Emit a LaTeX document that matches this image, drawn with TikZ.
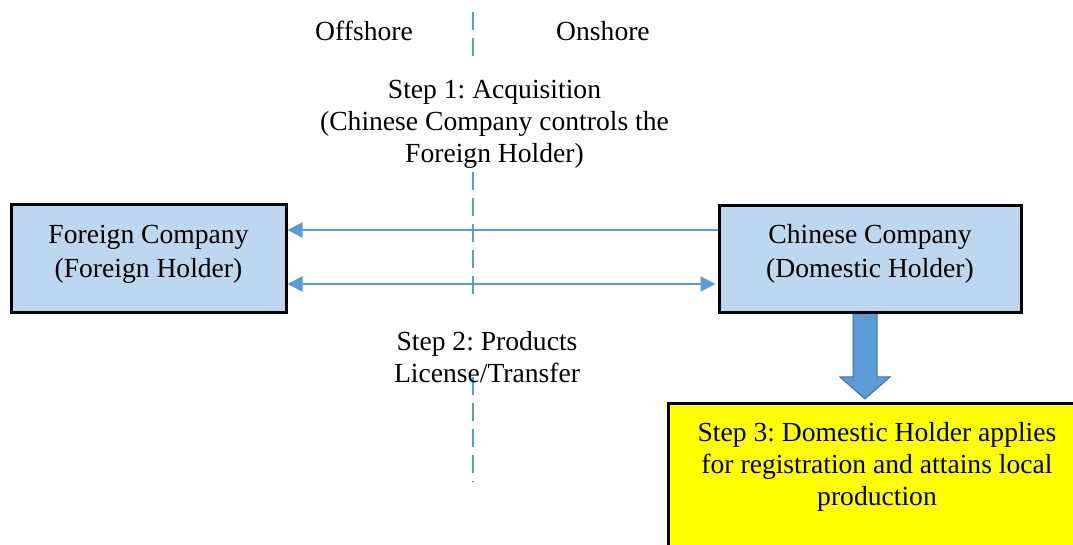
\documentclass[tikz,border=0pt]{standalone}
\usepackage{fontspec}
\setmainfont{Liberation Serif}
\usetikzlibrary{arrows.meta,calc}
\definecolor{boxblue}{HTML}{BDD7EE}
\definecolor{lineblue}{HTML}{5B9BD5}
\definecolor{arrowedge}{HTML}{41719C}
\definecolor{stepyellow}{HTML}{FFFF00}
\frenchspacing

\begin{document}
\begin{tikzpicture}[x=0.5pt,y=-0.5pt,
  txt/.style={align=center,inner sep=0pt,font=\fontsize{13.8}{16}\selectfont},
  boxtxt/.style={align=center,inner sep=0pt,font=\fontsize{13.8}{17}\selectfont},
  holder/.style={draw=black,line width=1.5pt,fill=boxblue,inner sep=0pt},
  stepbox/.style={draw=black,line width=1.5pt,fill=stepyellow,inner sep=0pt},
  link/.style={draw=lineblue,line width=1pt},
  tri/.tip={Triangle[length=7.5pt,width=7.5pt]},
  divider/.style={draw=lineblue,line width=1pt,dash pattern=on 9pt off 4pt},
  blockarrow/.style={fill=lineblue,draw=arrowedge,line width=0.5pt}]

\useasboundingbox (0,0) rectangle (1073,545);
\clip (0,0) rectangle (1073,545);

% offshore / onshore divider
\coordinate (d0) at (473,12);
\coordinate (d1) at (473,58);
\coordinate (d2) at (473,172);
\coordinate (d3) at (473,297);
\coordinate (d4) at (473,377);
\coordinate (d5) at (473,482);
\draw[divider] (d0) -- (d1);
\draw[divider] (d2) -- (d3);
\draw[divider] (d4) -- (d5);

\node[txt,anchor=base] (off) at (364,41) {Offshore};
\node[txt,anchor=base] (on) at (603,41) {Onshore};

% step labels
\node[txt] (s1) at (494.5,124) {Step 1: Acquisition\\(Chinese Company controls the\\Foreign Holder)};
\node[txt] (s2) at (487,357) {Step 2: Products\\License/Transfer};

% block arrow towards step 3
\coordinate (ar) at (865,313);
\begin{scope}[shift={(ar)}]
  \draw[blockarrow] (-12,0) -- (-12,64) -- (-25,64) -- (0,86) -- (25,64) -- (12,64) -- (12,0) -- cycle;
\end{scope}

% holders
\node[holder,minimum width=137.5pt,minimum height=54pt] (fc) at (148.5,259) {};
\node[boxtxt] (fct) at (148.5,254) {Foreign Company\\(Foreign Holder)};
\node[holder,minimum width=151pt,minimum height=53.5pt] (cc) at (870,259.5) {};
\node[boxtxt] (cct) at (870,254) {Chinese Company\\(Domestic Holder)};

% step 3
\node[stepbox,minimum width=209pt,minimum height=80pt] (s3) at (877,484) {};
\node[txt] (s3t) at (877,467) {Step 3: Domestic Holder applies\\for registration and attains local\\production};

% connectors between the holders
\draw[link,-tri] ($(cc.west)+(0,-29.5)$) -- ($(fc.east)+(0,-29)$);
\draw[link,tri-tri,shorten >=1pt] ($(fc.east)+(0,25)$) -- ($(cc.west)+(0,24.5)$);
\end{tikzpicture}
\end{document}
